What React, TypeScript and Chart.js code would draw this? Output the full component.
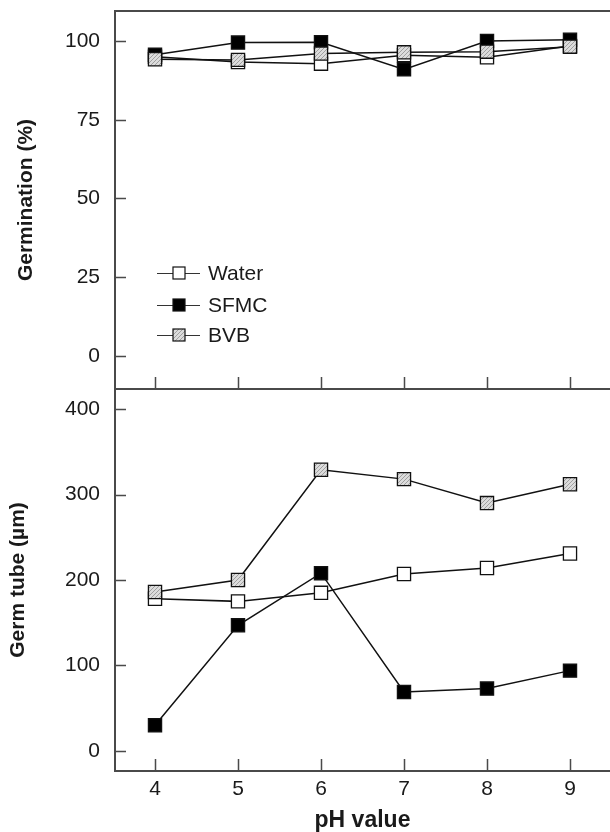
import React, { useEffect, useRef } from "react";
import { Chart, registerables } from "chart.js";

Chart.register(...registerables);

const phValues = [4, 5, 6, 7, 8, 9];
const seriesNames = ["Water", "SFMC", "BVB"];
const germWater = [95, 93.3, 92.8, 95.5, 94.8, 98.4];
const germSFMC = [95.6, 99.5, 99.6, 91, 100, 100.4];
const germBVB = [94.2, 94, 96, 96.4, 96.6, 98.2];
const tubeWater = [178, 175, 185, 207, 214, 231];
const tubeSFMC = [30, 147, 208, 69, 73, 94];
const tubeBVB = [186, 200, 329, 318, 290, 312];
const germTicks = [0, 25, 50, 75, 100];
const tubeTicks = [0, 100, 200, 300, 400];

const FONT = "'Liberation Sans', Arial, Helvetica, sans-serif";
const AXIS_COLOR = "#4a4a4a";
const TEXT_COLOR = "#1a1a1a";

function makePattern(): CanvasPattern | string {
  const c = document.createElement("canvas");
  c.width = 4;
  c.height = 4;
  const g = c.getContext("2d");
  if (!g) return "#d0d0d0";
  g.fillStyle = "#dcdcdc";
  g.fillRect(0, 0, 4, 4);
  g.strokeStyle = "#a0a0a0";
  g.lineWidth = 1;
  g.beginPath();
  g.moveTo(0, 4);
  g.lineTo(4, 0);
  g.stroke();
  const p = g.createPattern(c, "repeat");
  return p || "#d0d0d0";
}

function toPoints(vals: number[]) {
  return phValues.map((x, i) => ({ x, y: vals[i] }));
}

function makeDatasets(vals: number[][], fills: any[]) {
  const orders = [3, 2, 1];
  return vals.map((v, i) => ({
    label: seriesNames[i],
    data: toPoints(v),
    borderColor: "#111",
    borderWidth: 1.5,
    pointStyle: "rect",
    pointRadius: 9.3,
    pointBorderWidth: 1.3,
    pointBorderColor: "#111",
    pointBackgroundColor: fills[i],
    order: orders[i],
    tension: 0,
    clip: false as any,
  }));
}

function axisPlugin(opts: { top: boolean; yTicks: number[] }) {
  return {
    id: "axisFrame",
    beforeDatasetsDraw(chart: any) {
      const { ctx, chartArea } = chart;
      const { left, top, bottom } = chartArea;
      const xs = chart.scales.x;
      const ys = chart.scales.y;
      const W = chart.width;
      ctx.save();
      ctx.strokeStyle = AXIS_COLOR;
      ctx.lineWidth = 2;
      ctx.beginPath();
      ctx.moveTo(left, opts.top ? top : 0);
      ctx.lineTo(left, bottom);
      ctx.moveTo(left - 1, bottom);
      ctx.lineTo(W, bottom);
      if (opts.top) {
        ctx.moveTo(left - 1, top);
        ctx.lineTo(W, top);
      }
      ctx.stroke();
      ctx.lineWidth = 1.5;
      ctx.beginPath();
      for (const t of opts.yTicks) {
        const y = Math.round(ys.getPixelForValue(t)) + 0.5;
        ctx.moveTo(left, y);
        ctx.lineTo(left + 11, y);
      }
      for (const p of phValues) {
        const x = Math.round(xs.getPixelForValue(p)) + 0.5;
        ctx.moveTo(x, bottom);
        ctx.lineTo(x, bottom - 12);
      }
      ctx.stroke();
      ctx.restore();
    },
  };
}

function legendPlugin(fills: any[]) {
  return {
    id: "insideLegend",
    afterDraw(chart: any) {
      const { ctx, chartArea } = chart;
      const L = chartArea.left;
      const rows = [273, 305, 335];
      ctx.save();
      seriesNames.forEach((name, i) => {
        const y = rows[i];
        ctx.strokeStyle = "#333";
        ctx.lineWidth = 1.2;
        ctx.beginPath();
        ctx.moveTo(L + 42, y + 0.5);
        ctx.lineTo(L + 85, y + 0.5);
        ctx.stroke();
        const s = 12;
        ctx.fillStyle = fills[i];
        ctx.fillRect(L + 64 - s / 2, y - s / 2, s, s);
        ctx.strokeStyle = "#111";
        ctx.lineWidth = 1.2;
        ctx.strokeRect(L + 64 - s / 2, y - s / 2, s, s);
        ctx.fillStyle = TEXT_COLOR;
        ctx.font = `21px ${FONT}`;
        ctx.textAlign = "left";
        ctx.textBaseline = "middle";
        ctx.fillText(name, L + 93, y + 1);
      });
      ctx.restore();
    },
  };
}

const X_MIN = 3.518;
const X_MAX = 9.482;

function fixX(h: number) {
  return (s: any) => {
    s.height = h;
    s.paddingLeft = 0;
    s.paddingRight = 0;
    s.paddingTop = 0;
    s.paddingBottom = 0;
  };
}

function fixY(w: number) {
  return (s: any) => {
    s.width = w;
    s.paddingTop = 0;
    s.paddingBottom = 0;
    s.paddingLeft = 0;
    s.paddingRight = 0;
  };
}

export default function App() {
  const topRef = useRef<HTMLCanvasElement>(null);
  const botRef = useRef<HTMLCanvasElement>(null);

  useEffect(() => {
    const pattern = makePattern();
    const fills = ["#ffffff", "#000000", pattern];

    const tickFont = { family: FONT, size: 21 };
    const titleFont = { family: FONT, size: 21, weight: "bold" as const };

    const topChart = new Chart(topRef.current!, {
      type: "line",
      data: { datasets: makeDatasets([germWater, germSFMC, germBVB], fills) as any },
      options: {
        responsive: false,
        animation: false,
        layout: { autoPadding: false, padding: { top: 11, left: 0, right: 0, bottom: 0 } },
        plugins: { legend: { display: false }, tooltip: { enabled: false } },
        scales: {
          x: {
            type: "linear",
            min: X_MIN,
            max: X_MAX,
            grid: { display: false, drawTicks: false },
            border: { display: false },
            ticks: { display: false },
            afterFit: fixX(1),
          },
          y: {
            type: "linear",
            min: -10.48,
            max: 109.52,
            afterBuildTicks: (s: any) => {
              s.ticks = germTicks.map((v) => ({ value: v }));
            },
            grid: { display: false, drawTicks: false },
            border: { display: false },
            ticks: { color: TEXT_COLOR, font: tickFont, padding: 15 },
            title: {
              display: true,
              text: "Germination (%)",
              color: TEXT_COLOR,
              font: titleFont,
              padding: { top: 14, bottom: 0 },
            },
            afterFit: fixY(115),
          },
        },
      },
      plugins: [axisPlugin({ top: true, yTicks: germTicks }), legendPlugin(fills)],
    });

    const botChart = new Chart(botRef.current!, {
      type: "line",
      data: { datasets: makeDatasets([tubeWater, tubeSFMC, tubeBVB], fills) as any },
      options: {
        responsive: false,
        animation: false,
        layout: { autoPadding: false, padding: { top: 0, left: 0, right: 0, bottom: 0 } },
        plugins: { legend: { display: false }, tooltip: { enabled: false } },
        scales: {
          x: {
            type: "linear",
            min: X_MIN,
            max: X_MAX,
            afterBuildTicks: (s: any) => {
              s.ticks = phValues.map((v) => ({ value: v }));
            },
            grid: { display: false, drawTicks: false },
            border: { display: false },
            ticks: { color: TEXT_COLOR, font: tickFont, padding: 6, maxRotation: 0 },
            title: {
              display: true,
              text: "pH value",
              color: TEXT_COLOR,
              font: { family: FONT, size: 23, weight: "bold", lineHeight: 1 },
              padding: { top: 0, bottom: 0 },
            },
            afterFit: fixX(61),
          },
          y: {
            type: "linear",
            min: -23.4,
            max: 423.4,
            afterBuildTicks: (s: any) => {
              s.ticks = tubeTicks.map((v) => ({ value: v }));
            },
            grid: { display: false, drawTicks: false },
            border: { display: false },
            ticks: { color: TEXT_COLOR, font: tickFont, padding: 15 },
            title: {
              display: true,
              text: "Germ tube (µm)",
              color: TEXT_COLOR,
              font: titleFont,
              padding: { top: 6, bottom: 0 },
            },
            afterFit: fixY(115),
          },
        },
      },
      plugins: [axisPlugin({ top: false, yTicks: tubeTicks })],
    });

    return () => {
      topChart.destroy();
      botChart.destroy();
    };
  }, []);

  return (
    <div
      style={{
        position: "absolute",
        left: 0,
        top: 0,
        width: 610,
        height: 832,
        overflow: "hidden",
        background: "#fff",
      }}
    >
      <canvas
        ref={topRef}
        width={610}
        height={390}
        style={{ position: "absolute", left: 0, top: 0, display: "block" }}
      />
      <canvas
        ref={botRef}
        width={610}
        height={443}
        style={{ position: "absolute", left: 0, top: 389, display: "block" }}
      />
    </div>
  );
}
